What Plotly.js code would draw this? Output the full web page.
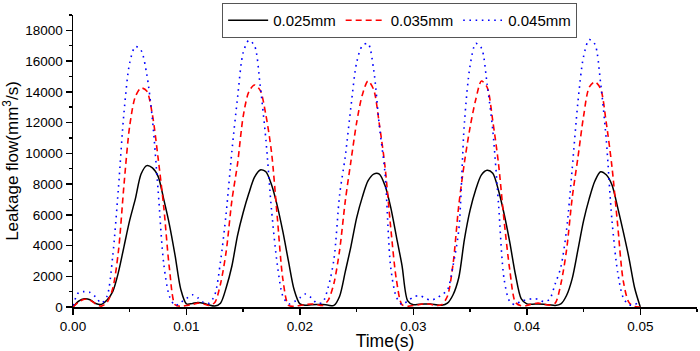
<!DOCTYPE html>
<html>
<head>
<meta charset="utf-8">
<script src="https://cdn.plot.ly/plotly-3.0.1.min.js"></script>
<style>html,body{margin:0;padding:0;background:#fff;}#chart{width:700px;height:351px;}</style>
</head>
<body>
<div id="chart"></div>
<script>
const seriesNames = ["0.025mm", "0.035mm", "0.045mm"];
const time = [0,0.0005,0.001,0.0015,0.002,0.0025,0.003,0.0035,0.004,0.0045,
0.005,0.0055,0.006,0.0065,0.007,0.0075,0.008,0.0085,0.009,0.0095,
0.01,0.0105,0.011,0.0115,0.012,0.0125,0.013,0.0135,0.014,0.0145,
0.015,0.0155,0.016,0.0165,0.017,0.0175,0.018,0.0185,0.019,0.0195,
0.02,0.0205,0.021,0.0215,0.022,0.0225,0.023,0.0235,0.024,0.0245,
0.025,0.0255,0.026,0.0265,0.027,0.0275,0.028,0.0285,0.029,0.0295,
0.03,0.0305,0.031,0.0315,0.032,0.0325,0.033,0.0335,0.034,0.0345,
0.035,0.0355,0.036,0.0365,0.037,0.0375,0.038,0.0385,0.039,0.0395,
0.04,0.0405,0.041,0.0415,0.042,0.0425,0.043,0.0435,0.044,0.0445,
0.045,0.0455,0.046,0.0465,0.047,0.0475,0.048,0.0485,0.049,0.0495,0.05];
const flow025 = [0,380,530,470,230,170,450,1000,2250,3950,
5650,7050,8650,9200,9050,8500,7000,5350,3350,1150,
200,220,300,250,130,60,250,1250,2650,4650,
6150,7400,8450,8920,8800,7950,6600,4900,2950,1100,
200,120,150,170,160,120,100,700,2300,3950,
5800,7150,8200,8650,8650,7900,6500,4600,2700,400,
150,180,200,190,150,110,250,800,1900,4400,
6300,7650,8600,8900,8700,7600,6050,4200,2100,550,
200,180,200,180,140,100,200,750,1850,3700,
5600,7050,8200,8800,8600,7950,6500,4900,3200,1250,0];
const flow035 = [0,330,500,450,200,60,300,1200,3600,8000,
11800,13700,14250,14050,12500,9700,6500,2500,150,50,
100,150,250,200,100,300,1500,3600,6900,9300,
12400,14000,14450,14100,12500,10050,5900,1800,100,50,
100,150,200,150,100,450,1550,3700,6900,9500,
12000,13800,14700,14150,11900,9150,5200,1800,150,50,
100,150,220,180,100,150,700,2800,6600,9400,
11700,13500,14700,14300,12100,9350,5600,2400,300,80,
100,200,250,180,120,250,1500,3700,7100,9700,
12400,14300,14650,14200,12000,9150,5400,1700,300,30,0];
const flow045 = [100,950,1000,950,650,250,700,3300,7700,12700,
15900,16950,16700,15150,12200,7600,2800,700,100,300,
550,800,600,300,250,800,2950,6100,10100,13600,
16550,17350,17000,14400,10900,6300,2800,700,200,350,
600,850,600,250,300,1300,3100,7300,9800,13050,
15900,17000,17150,15450,11800,8700,2600,650,150,400,
650,750,600,450,550,800,1100,2700,5000,12000,
15700,17150,16850,14500,11500,6760,1800,350,150,400,
450,550,500,350,500,1500,2600,5000,9000,13300,
16300,17400,17100,14600,10900,5670,2300,600,150,150,400];

const font = "Arial, 'Liberation Sans', sans-serif";
const traces = [
  {x: time, y: flow025, name: seriesNames[0], type: 'scatter', mode: 'lines',
   line: {color: '#000000', width: 1.5, shape: 'spline', smoothing: 0.8}},
  {x: time, y: flow035, name: seriesNames[1], type: 'scatter', mode: 'lines',
   line: {color: '#ff0000', width: 1.6, dash: '6px,4px', shape: 'spline', smoothing: 0.8}},
  {x: time, y: flow045, name: seriesNames[2], type: 'scatter', mode: 'lines',
   line: {color: '#0000ff', width: 1.6, dash: '1.6px,4.6px', shape: 'spline', smoothing: 0.8}}
];
const layout = {
  width: 700, height: 351,
  margin: {l: 73, r: 3, t: 15, b: 44},
  paper_bgcolor: '#fff', plot_bgcolor: '#fff',
  font: {family: font, color: '#000', size: 13.5},
  showlegend: true,
  legend: {orientation: 'h', x: 0.239, xanchor: 'left', y: 1.041, yanchor: 'top',
    bgcolor: '#fff', bordercolor: '#555', borderwidth: 1, font: {family: font, size: 15, color: '#000'},
    tracegroupgap: 0, itemwidth: 40},
  xaxis: {range: [0, 0.055], tickvals: [0, 0.01, 0.02, 0.03, 0.04, 0.05],
    ticktext: ['0.00','0.01','0.02','0.03','0.04','0.05'],
    showgrid: false, zeroline: false, showline: true, linecolor: '#000', linewidth: 1.5,
    ticks: 'outside', ticklen: 6, tickwidth: 1.5, tickcolor: '#000',
    minor: {dtick: 0.005, tick0: 0, ticks: 'outside', ticklen: 3, tickwidth: 1.5, tickcolor: '#000', showgrid: false},
    tickfont: {family: font, size: 13.5},
    title: {text: 'Time(s)', font: {family: font, size: 17.5}, standoff: 6}},
  yaxis: {range: [0, 19000], dtick: 2000, tick0: 0, tickformat: 'd',
    showgrid: false, zeroline: false, showline: true, linecolor: '#000', linewidth: 1.5,
    ticks: 'outside', ticklen: 6, tickwidth: 1.5, tickcolor: '#000',
    minor: {dtick: 1000, tick0: 0, ticks: 'outside', ticklen: 3, tickwidth: 1.5, tickcolor: '#000', showgrid: false},
    tickfont: {family: font, size: 13.5},
    title: {text: 'Leakage flow(mm<sup>3</sup>/s)', font: {family: font, size: 17}, standoff: 8}}
};
Plotly.newPlot('chart', traces, layout, {displayModeBar: false, staticPlot: true});
</script>
</body>
</html>
